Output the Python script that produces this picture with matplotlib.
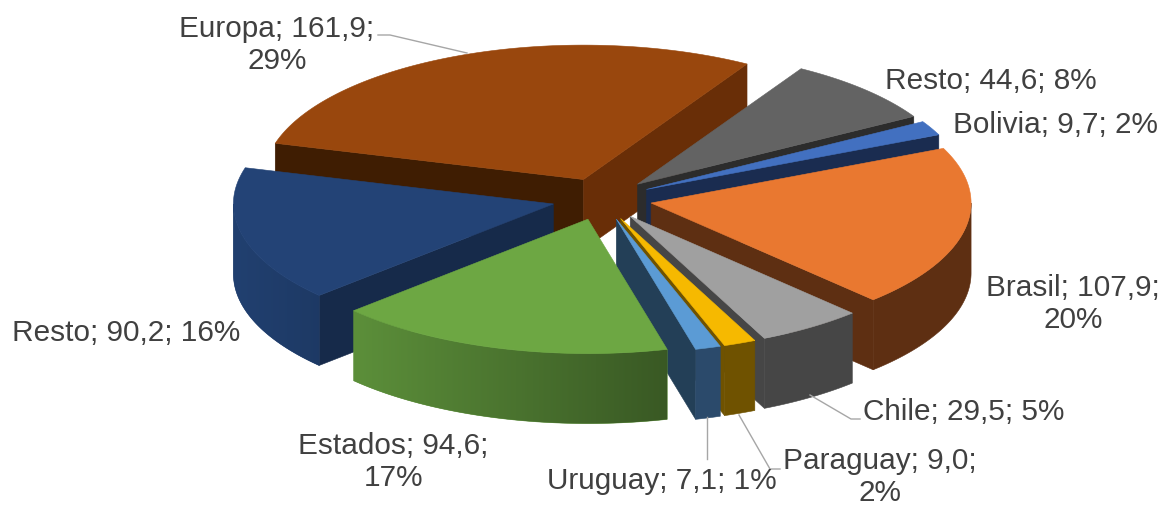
#!/usr/bin/env python3
import numpy as np
import matplotlib
matplotlib.use("Agg")
import matplotlib.pyplot as plt
from matplotlib.patches import Polygon
from matplotlib.colors import LinearSegmentedColormap, to_rgb

# slices in clockwise order, starting at Brasil
categories = ["Brasil", "Chile", "Paraguay", "Uruguay", "Estados", "Resto", "Europa", "Resto", "Bolivia"]
values = [107.9, 29.5, 9.0, 7.1, 94.6, 90.2, 161.9, 44.6, 9.7]
percents = [20, 5, 2, 1, 17, 16, 29, 8, 2]

top_colors = ["#E97830", "#A0A0A0", "#F6B900", "#5B9BD5", "#6DA743", "#234376", "#99470D", "#636363", "#4270C0"]
wall_colors = ["#5E2F12", "#464646", "#6F5200", "#2B4A6B", "#5C8F3A", "#214070", "#692E07", "#2C2C2C", "#1A2C50"]
wall_dark = [1.0, 1.0, 1.0, 1.0, 0.62, 0.9, 1.0, 1.0, 1.0]
start_cut_colors = ["#5E2F12", "#464646", "#6F5200", "#233F57", "#3A5A20", "#162A4A", "#3F1D02", "#2C2C2C", "#1A2C50"]
end_cut_colors = ["#5E2F12", "#464646", "#6F5200", "#233F57", "#3A5A20", "#162A4A", "#692E07", "#2C2C2C", "#1A2C50"]

# pie geometry in pixels
CX, CY = 602, 200
RADIUS = 320
SQUASH = 0.42
DEPTH = 70
EXPLODE = 50
START_ANGLE = -24

# label text position, line breaks, leader line
label_pos = [(1073, 304), (964, 412), (880, 477), (662, 481), (393, 462), (126, 333), (277, 45), (991, 81), (1055, 125)]
label_wrap = [True, False, True, False, True, False, True, False, False]
leaders = {
    1: [(810, 396), (851, 420), (860, 420)],
    2: [(739, 416), (770, 470), (780, 470)],
    3: [(707, 418), (707, 460)],
    6: [(467, 54), (390, 36), (378, 36)],
}


def fmt_label(i):
    val = f"{values[i]:.1f}".replace(".", ",")
    sep = "\n" if label_wrap[i] else " "
    return f"{categories[i]}; {val};{sep}{percents[i]}%"


def rim(apex, ang):
    rad = np.radians(ang)
    return apex[0] + RADIUS * np.cos(rad), apex[1] + RADIUS * SQUASH * np.sin(rad)


fig = plt.figure(figsize=(11.63, 5.06), dpi=100)
ax = fig.add_axes([0, 0, 1, 1])

spans = np.array(values) / sum(values) * 360
starts = START_ANGLE + np.concatenate([[0], np.cumsum(spans)[:-1]])
ends = starts + spans
mids = (starts + ends) / 2

# back slices first, front ones painted over them
order = np.argsort(np.sin(np.radians(mids)))
z = 1
for i in order:
    a0, a1 = starts[i], ends[i]
    m = np.radians(mids[i])
    apex = (CX + EXPLODE * np.cos(m), CY + EXPLODE * SQUASH * np.sin(m))

    # cut faces, only those turned towards the viewer
    for ang, col, visible in [(a0, start_cut_colors[i], np.cos(np.radians(a0)) < 0),
                              (a1, end_cut_colors[i], np.cos(np.radians(a1)) > 0)]:
        if visible:
            x, y = rim(apex, ang)
            face = [apex, (x, y), (x, y + DEPTH), (apex[0], apex[1] + DEPTH)]
            ax.add_patch(Polygon(face, closed=True, fc=col, ec=col, lw=0.4, zorder=z))
            z += 1

    # outer wall, gradient image clipped to the wall outline
    w0, w1 = max(a0, 0), min(a1, 180)
    if w1 > w0:
        th = np.linspace(w0, w1, 120)
        upper = [rim(apex, t) for t in th]
        lower = [(x, y + DEPTH) for x, y in upper[::-1]]
        col = to_rgb(wall_colors[i])
        dark = tuple(c * wall_dark[i] for c in col)
        wall = Polygon(upper + lower, closed=True, fc=col, ec=col, lw=0.4, zorder=z)
        ax.add_patch(wall)
        if wall_dark[i] < 1:
            cmap = LinearSegmentedColormap.from_list("wall", [col, dark])
            xs = [p[0] for p in upper]
            im = ax.imshow(np.linspace(0, 1, 256).reshape(1, -1), cmap=cmap, aspect="auto",
                           extent=(min(xs), max(xs), 506, 0), zorder=z + 0.5)
            im.set_clip_path(wall)
        z += 1

    # top face
    th = np.linspace(a0, a1, 120)
    pts = [apex] + [rim(apex, t) for t in th]
    ax.add_patch(Polygon(pts, closed=True, fc=top_colors[i], ec=top_colors[i], lw=0.4, zorder=z))
    z += 1

for idx, pts in leaders.items():
    xs, ys = zip(*pts)
    ax.plot(xs, ys, color="#A6A6A6", lw=1.0, zorder=z)

for i in range(len(categories)):
    ax.text(label_pos[i][0], label_pos[i][1], fmt_label(i), ha="center", va="center",
            family="Liberation Sans", fontsize=21.4, color="#404040", linespacing=1.22, zorder=z + 1)

ax.set_xlim(0, 1163)
ax.set_ylim(506, 0)
ax.axis("off")
fig.savefig("out.png", dpi=100)
